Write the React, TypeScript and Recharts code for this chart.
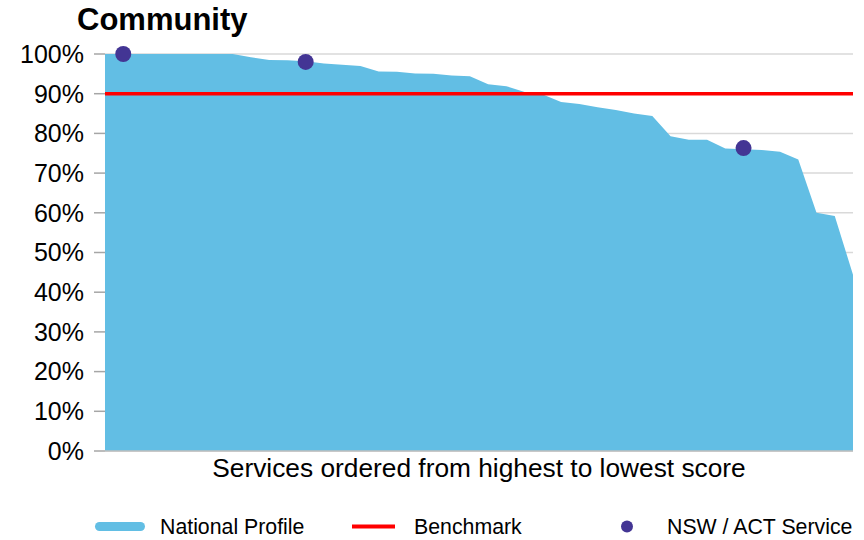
import React from "react";
import {
  ComposedChart,
  Area,
  Scatter,
  XAxis,
  YAxis,
  CartesianGrid,
  ReferenceLine,
} from "recharts";

const chartTitle = "Community";
const xAxisTitle = "Services ordered from highest to lowest score";

// National profile: services ordered from highest to lowest score (%)
const nationalProfile = [
  100, 100, 100, 100, 100, 100, 100, 100, 99.2, 98.5, 98.4, 98.2, 97.6, 97.3,
  97.0, 95.6, 95.5, 95.1, 95.0, 94.6, 94.4, 92.4, 91.9, 90.4, 89.8, 87.9, 87.4,
  86.6, 85.9, 85.0, 84.4, 79.3, 78.4, 78.4, 76.2, 76.0, 75.8, 75.4, 73.4, 60.0,
  59.2, 44.4,
];

// NSW / ACT services: position in the ordering and score (%)
const serviceIndex = [1, 11, 35];
const serviceValues = [100, 98.0, 76.3];

const benchmark = 90;
const yTicks = [0, 10, 20, 30, 40, 50, 60, 70, 80, 90, 100];

const legendLabels = ["National Profile", "Benchmark", "NSW / ACT Service"];

const AREA_COLOR = "#62bee4";
const BENCH_COLOR = "#ff0000";
const DOT_COLOR = "#433594";
const FONT = "'Liberation Sans', Arial, Helvetica, sans-serif";

const profileData = nationalProfile.map((p, i) => ({ i, p }));
const serviceData = serviceIndex.map((i, k) => ({ i, v: serviceValues[k] }));

const Dot = (props: any) => {
  const { cx, cy } = props;
  if (cx == null || cy == null) return null;
  return <circle cx={cx} cy={cy} r={8} fill={DOT_COLOR} />;
};

export default function App() {
  return (
    <div
      style={{
        position: "absolute",
        left: 0,
        top: 0,
        width: 864,
        height: 540,
        background: "#ffffff",
        fontFamily: FONT,
      }}
    >
      <div
        style={{
          position: "absolute",
          left: 77,
          top: 2,
          fontSize: 31,
          fontWeight: "bold",
          color: "#000",
          fontFamily: FONT,
          lineHeight: "36px",
        }}
      >
        {chartTitle}
      </div>
      <ComposedChart
        width={864}
        height={540}
        data={profileData}
        margin={{ top: 54, right: 11, left: 0, bottom: 49 }}
        style={{ position: "absolute", left: 0, top: 0 }}
      >
        <CartesianGrid
          horizontal={true}
          vertical={false}
          stroke="#d9d9d9"
          strokeWidth={1.5}
        />
        <XAxis
          type="number"
          dataKey="i"
          domain={[0, nationalProfile.length - 1]}
          tick={false}
          tickLine={false}
          axisLine={{ stroke: "#bfbfbf", strokeWidth: 1.5 }}
          height={40}
          label={{
            value: xAxisTitle,
            position: "insideBottom",
            offset: 14,
            style: { fontSize: 26.3, fill: "#000", fontFamily: FONT },
          }}
        />
        <YAxis
          type="number"
          domain={[0, 100]}
          ticks={yTicks}
          interval={0}
          width={105}
          tickFormatter={(v: number) => `${v}%`}
          tick={{ fontSize: 25, fill: "#000", fontFamily: FONT }}
          tickSize={11}
          tickMargin={10}
          tickLine={{ stroke: "#a6a6a6", strokeWidth: 1.5 }}
          axisLine={false}
        />
        <Area
          type="linear"
          dataKey="p"
          stroke="none"
          fill={AREA_COLOR}
          fillOpacity={1}
          isAnimationActive={false}
          activeDot={false}
          dot={false}
        />
        <ReferenceLine
          y={benchmark}
          stroke={BENCH_COLOR}
          strokeWidth={3.5}
          ifOverflow="extendDomain"
        />
        <Scatter
          data={serviceData}
          dataKey="v"
          fill={DOT_COLOR}
          shape={Dot}
          isAnimationActive={false}
        />
      </ComposedChart>
      <svg
        width={864}
        height={40}
        style={{ position: "absolute", left: 0, top: 506 }}
      >
        <rect x={95} y={16} width={50} height={9} rx={4.5} fill={AREA_COLOR} />
        <text x={160} y={27.5} fontSize={21.3} fill="#000" fontFamily={FONT}>
          {legendLabels[0]}
        </text>
        <line
          x1={352}
          x2={395}
          y1={20.5}
          y2={20.5}
          stroke={BENCH_COLOR}
          strokeWidth={4}
        />
        <text x={414} y={27.5} fontSize={21.3} fill="#000" fontFamily={FONT}>
          {legendLabels[1]}
        </text>
        <circle cx={627} cy={20.5} r={6} fill={DOT_COLOR} />
        <text x={667} y={27.5} fontSize={21.3} fill="#000" fontFamily={FONT}>
          {legendLabels[2]}
        </text>
      </svg>
    </div>
  );
}
